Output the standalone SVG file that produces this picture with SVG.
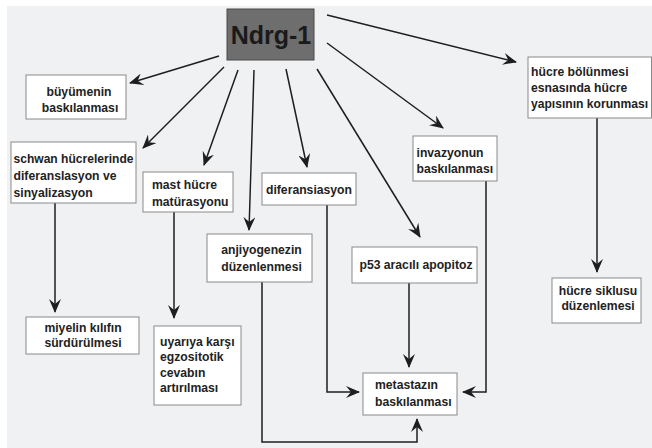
<svg xmlns="http://www.w3.org/2000/svg" width="652" height="448" viewBox="0 0 652 448">
<defs>
<marker id="arr" viewBox="0 0 14 12" refX="13" refY="6" markerWidth="14" markerHeight="12" orient="auto" markerUnits="userSpaceOnUse">
<path d="M0,0 L14,6 L0,12 L5,6 Z" fill="#1e1e1e"/>
</marker>
<style>
.box{fill:#ffffff;stroke:#8a8a8a;stroke-width:1}
.t{font-family:"Liberation Sans",Arial,sans-serif;font-weight:bold;font-size:12.2px;fill:#222222}
.c{text-anchor:middle}
.ln{fill:none;stroke:#1e1e1e;stroke-width:1.5;marker-end:url(#arr)}
</style>
</defs>
<rect x="0" y="0" width="652" height="448" fill="#ffffff"/>
<rect x="7" y="6" width="645" height="442" fill="#f0f1f3"/>

<g id="connectors">
<path class="ln" d="M219,56 L130,83"/>
<path class="ln" d="M224,67 L143,148"/>
<path class="ln" d="M238,70 L204,165"/>
<path class="ln" d="M254,70 L249,230"/>
<path class="ln" d="M286,69 L307,167"/>
<path class="ln" d="M317,69 L420,237"/>
<path class="ln" d="M327,43 L443,128"/>
<path class="ln" d="M327,15 L516,62"/>
<path class="ln" d="M55,203 L55,312"/>
<path class="ln" d="M174,212 L174,318"/>
<path class="ln" d="M262,282 L262,442 L417,442 L417,419"/>
<path class="ln" d="M327,205 L327,392 L359,392"/>
<path class="ln" d="M409,283 L409,367"/>
<path class="ln" d="M486,181 L486,392 L463,392"/>
<path class="ln" d="M597,118 L597,272"/>
</g>

<g id="ndrg1">
<rect x="227" y="9" width="87" height="51" fill="#6e6e6e" stroke="#4a4a4a" stroke-width="1"/>
<text x="271" y="44" text-anchor="middle" font-family="Liberation Sans,Arial,sans-serif" font-weight="bold" font-size="25" fill="#1a1a1a">Ndrg-1</text>
</g>

<g id="buyumenin">
<rect class="box" x="26" y="75" width="100" height="44"/>
<text class="t c" x="79" y="96">büyümenin</text>
<text class="t c" x="80" y="112">baskılanması</text>
</g>

<g id="schwan">
<rect class="box" x="11" y="142" width="125" height="61"/>
<text class="t" x="13.5" y="163" textLength="120" lengthAdjust="spacingAndGlyphs">schwan hücrelerinde</text>
<text class="t" x="13.5" y="180">diferanslasyon ve</text>
<text class="t" x="13.5" y="197">sinyalizasyon</text>
</g>

<g id="mast">
<rect class="box" x="143" y="172" width="90" height="40"/>
<text class="t" x="152" y="189">mast hücre</text>
<text class="t" x="152" y="206">matürasyonu</text>
</g>

<g id="diferansiasyon">
<rect class="box" x="262" y="173" width="94" height="32"/>
<text class="t c" x="309" y="194">diferansiasyon</text>
</g>

<g id="anjiyogenezin">
<rect class="box" x="207" y="234" width="105" height="48"/>
<text class="t c" x="261.5" y="254">anjiyogenezin</text>
<text class="t c" x="261.5" y="271">düzenlenmesi</text>
</g>

<g id="p53">
<rect class="box" x="352" y="247" width="125" height="36"/>
<text class="t c" x="416" y="269">p53 aracılı apopitoz</text>
</g>

<g id="invazyonun">
<rect class="box" x="413" y="136" width="84" height="45"/>
<text class="t" x="416.5" y="157">invazyonun</text>
<text class="t" x="416.5" y="173">baskılanması</text>
</g>

<g id="hucrebolunmesi">
<rect class="box" x="528" y="57" width="123.5" height="61"/>
<text class="t" x="531" y="76">hücre bölünmesi</text>
<text class="t" x="531" y="92">esnasında hücre</text>
<text class="t" x="531" y="108" textLength="117" lengthAdjust="spacingAndGlyphs">yapısının korunması</text>
</g>

<g id="hucresiklusu">
<rect class="box" x="552" y="278" width="89" height="45"/>
<text class="t c" x="598" y="295">hücre siklusu</text>
<text class="t c" x="598" y="310">düzenlemesi</text>
</g>

<g id="metastazin">
<rect class="box" x="363" y="373" width="94" height="42"/>
<text class="t" x="375" y="389">metastazın</text>
<text class="t" x="375" y="406">baskılanması</text>
</g>

<g id="miyelin">
<rect class="box" x="26" y="317" width="113" height="37"/>
<text class="t c" x="83" y="332">miyelin kılıfın</text>
<text class="t c" x="83" y="347">sürdürülmesi</text>
</g>

<g id="uyariya">
<rect class="box" x="154" y="326" width="87" height="79"/>
<text class="t" x="160" y="346">uyarıya karşı</text>
<text class="t" x="160" y="361">egzositotik</text>
<text class="t" x="160" y="377">cevabın</text>
<text class="t" x="160" y="392">artırılması</text>
</g>
</svg>
